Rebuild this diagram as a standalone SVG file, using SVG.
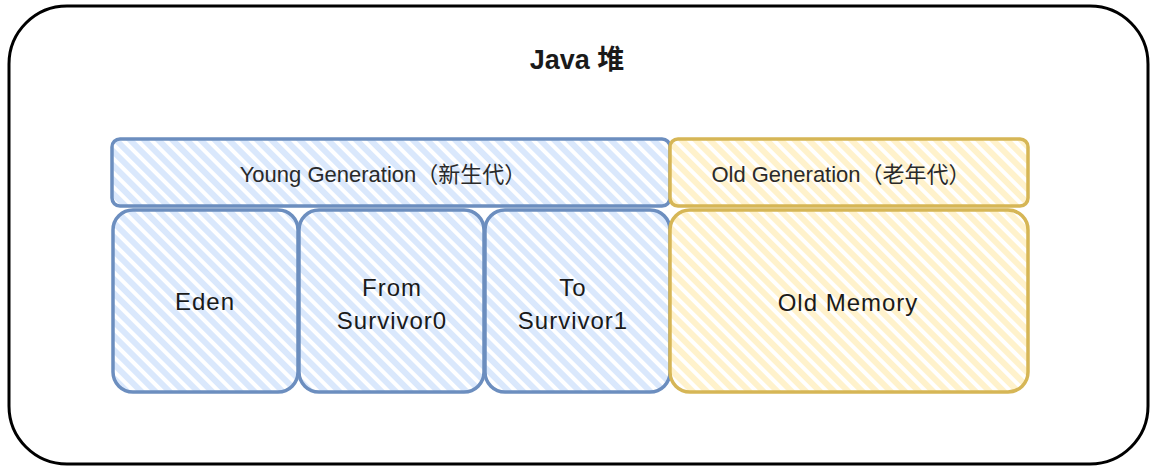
<svg xmlns="http://www.w3.org/2000/svg" width="1161" height="473" viewBox="0 0 1161 473">
<style>
text{font-family:"Liberation Sans","Noto Sans CJK SC",sans-serif;fill:#1a1a1a;text-anchor:middle;dominant-baseline:central}
.lbl{font-size:24px;letter-spacing:1px}
.sm{font-size:22px;fill:#2a2a2a}
.blue{fill:url(#hb);stroke:#6c8ebf;stroke-width:3.5}
.yel{fill:url(#hy);stroke:#d6b656;stroke-width:3.5}
</style>
<defs>
<pattern id="hb" width="10" height="10" patternUnits="userSpaceOnUse" patternTransform="rotate(-45)">
<rect width="10" height="10" fill="#ffffff"/>
<rect width="6" height="10" fill="#dae8fc"/>
</pattern>
<pattern id="hy" width="10" height="10" patternUnits="userSpaceOnUse" patternTransform="rotate(-45)">
<rect width="10" height="10" fill="#ffffff"/>
<rect width="6" height="10" fill="#fff2cc"/>
</pattern>
</defs>
<rect width="1161" height="473" fill="#ffffff"/>
<g id="heap">
<rect x="9" y="6" width="1139" height="458" rx="58" ry="58" fill="#ffffff" stroke="#000000" stroke-width="3"/>
<text x="577" y="60" style="font-size:27px;font-weight:bold">Java 堆</text>
</g>
<g id="young">
<rect class="blue" x="112" y="139" width="558" height="67" rx="8"/>
<text class="sm" x="383" y="174">Young Generation（新生代）</text>
</g>
<g id="old">
<rect class="yel" x="670" y="139" width="358" height="67" rx="8"/>
<text class="sm" x="841" y="174">Old Generation（老年代）</text>
</g>
<g id="eden">
<rect class="blue" x="113" y="210" width="185" height="182" rx="20"/>
<text class="lbl" x="205" y="301">Eden</text>
</g>
<g id="from">
<rect class="blue" x="299" y="210" width="185" height="182" rx="20"/>
<text class="lbl" x="392" y="287">From</text>
<text class="lbl" x="392" y="320">Survivor0</text>
</g>
<g id="to">
<rect class="blue" x="485" y="210" width="185" height="182" rx="20"/>
<text class="lbl" x="573" y="287">To</text>
<text class="lbl" x="573" y="320">Survivor1</text>
</g>
<g id="oldmem">
<rect class="yel" x="670" y="210" width="358" height="182" rx="20"/>
<text class="lbl" x="848" y="302">Old Memory</text>
</g>
<g id="connectors"></g>
</svg>
